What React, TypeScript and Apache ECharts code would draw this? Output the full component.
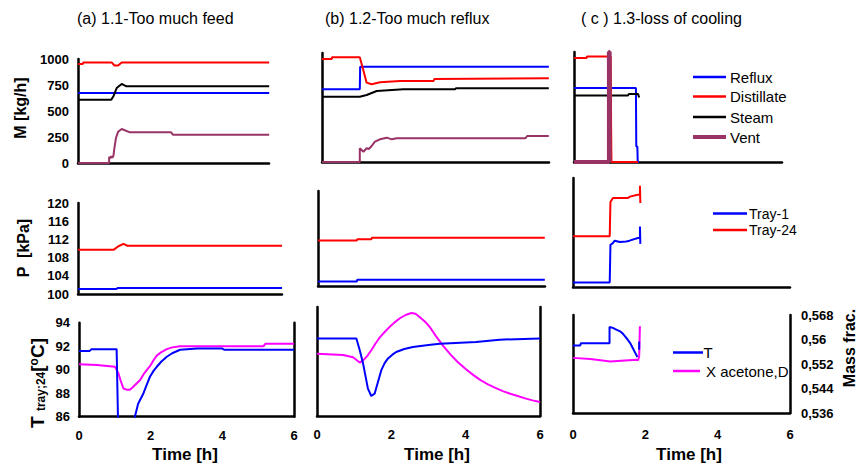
import React, { useEffect, useRef } from 'react';
import * as echarts from 'echarts';

const FONT = 'Arial, "Liberation Sans", Helvetica, sans-serif';

// ---------- DATA: [time h, value] ----------
// (a) 1.1 Too much feed — mass flows [kg/h]
const aReflux = [[0, 673], [5.34, 673]];
const aDistillate = [[0, 952], [0.13, 952], [0.15, 967], [0.94, 967], [1.02, 938], [1.12, 938], [1.22, 967], [5.34, 967]];
const aSteam = [[0, 609], [0.93, 609], [1.0, 650], [1.08, 721], [1.22, 760], [1.35, 737], [5.34, 737]];
const aVent = [[0, 0], [0.87, 0], [0.87, 60], [0.9, 45], [0.93, 65], [0.96, 50], [0.99, 70], [1.02, 150], [1.06, 240], [1.12, 300], [1.22, 327], [1.45, 295], [2.6, 295], [2.65, 272], [5.34, 272]];
// (a) pressures [kPa]
const aTray1 = [[0, 101.1], [1.08, 101.1], [1.1, 101.3], [5.7, 101.3]];
const aTray24 = [[0, 109.7], [0.99, 109.7], [1.13, 110.5], [1.27, 111.0], [1.38, 110.6], [5.7, 110.6]];
// (a) temperature [°C] and X acetone
const aT = [[0, 91.6], [0.3, 91.6], [0.35, 91.75], [1.05, 91.75], [1.1, 84], [1.5, 84], [1.56, 86], [1.65, 87.1], [1.8, 88.0], [1.9, 88.8], [1.98, 89.4], [2.08, 89.9], [2.17, 90.25], [2.3, 90.7], [2.45, 91.1], [2.6, 91.4], [2.82, 91.7], [3.3, 91.8], [4.0, 91.8], [4.05, 91.7], [6, 91.7]];
const aX = [[0, 90.46], [0.5, 90.4], [1.0, 90.26], [1.1, 89.7], [1.17, 89.0], [1.24, 88.4], [1.33, 88.3], [1.42, 88.3], [1.5, 88.5], [1.6, 88.8], [1.7, 89.1], [1.8, 89.6], [1.9, 90.0], [1.98, 90.3], [2.08, 90.8], [2.17, 91.2], [2.3, 91.5], [2.45, 91.75], [2.6, 91.9], [2.82, 92.0], [4.0, 92.0], [5.15, 92.0], [5.2, 92.2], [6, 92.2]];

// (b) 1.2 Too much reflux
const bReflux = [[0, 699], [1.05, 699], [1.06, 916], [6.3, 916]];
const bDistillate = [[0, 990], [0.27, 990], [0.28, 1007], [1.05, 1007], [1.15, 880], [1.24, 763], [1.38, 747], [1.61, 766], [2.17, 779], [3.1, 779], [3.12, 798], [6.3, 805]];
const bSteam = [[0, 628], [1.05, 628], [1.24, 644], [1.52, 683], [2.26, 699], [3.7, 699], [3.72, 709], [6.3, 709]];
const bVent = [[0, 0], [1.05, 0], [1.05, 132], [1.15, 99], [1.24, 132], [1.3, 125], [1.38, 154], [1.47, 195], [1.61, 218], [1.8, 234], [1.94, 218], [2.07, 228], [5.65, 228], [5.7, 250], [6.3, 250]];
const bTray1 = [[0, 101.0], [1.08, 101.0], [1.09, 101.4], [6.3, 101.4]];
const bTray24 = [[0, 110.0], [1.08, 110.0], [1.09, 110.3], [1.48, 110.3], [1.5, 110.6], [6.3, 110.6]];
const bT = [[0, 92.6], [1.06, 92.6], [1.15, 91.6], [1.24, 90.46], [1.37, 88.33], [1.46, 87.7], [1.55, 87.9], [1.64, 88.9], [1.73, 89.9], [1.82, 90.5], [1.91, 90.9], [2.02, 91.2], [2.13, 91.45], [2.35, 91.7], [2.58, 91.87], [3.0, 92.05], [3.3, 92.16], [4.28, 92.3], [4.91, 92.5], [6, 92.6]];
const bX = [[0, 91.3], [0.7, 91.2], [0.97, 91.0], [1.15, 90.55], [1.24, 90.74], [1.35, 91.1], [1.46, 91.6], [1.57, 92.15], [1.69, 92.7], [1.82, 93.15], [1.95, 93.57], [2.08, 93.95], [2.22, 94.3], [2.38, 94.6], [2.54, 94.77], [2.65, 94.7], [2.76, 94.43], [2.9, 94.05], [3.03, 93.6], [3.2, 92.8], [3.4, 91.95], [3.6, 91.2], [3.8, 90.55], [4.0, 90.0], [4.2, 89.5], [4.4, 89.05], [4.6, 88.7], [4.8, 88.4], [5.0, 88.12], [5.2, 87.9], [5.4, 87.7], [5.6, 87.5], [5.8, 87.33], [6, 87.19]];

// (c) 1.3 Loss of cooling
const cReflux = [[0, 711], [1.72, 711], [1.73, 150], [1.76, 150], [1.77, 0], [1.8, 0]];
const cDistillate = [[0, 1000], [0.35, 1000], [0.36, 1015], [1.02, 1015], [1.03, 360], [1.04, 0], [1.78, 0]];
const cSteam = [[0, 640], [1.5, 640], [1.52, 653], [1.78, 653], [1.81, 620]];
const cVent = [[0, 0], [0.97, 0], [0.97, 1058], [0.99, 1058], [0.99, 0]];
const cTray1 = [[0, 101.0], [1.02, 101.0], [1.04, 109.3], [1.1, 109.6], [1.16, 110.2], [1.3, 109.9], [1.48, 110.0], [1.57, 110.2], [1.8, 110.8], [1.86, 110.8], [1.86, 113.3], [1.87, 109.5]];
const cTray24 = [[0, 111.2], [1.02, 111.2], [1.04, 118.7], [1.11, 119.6], [1.53, 119.6], [1.58, 119.9], [1.8, 120.3], [1.86, 120.3], [1.86, 122.3], [1.87, 118.5]];
const cT = [[0, 91.52], [0.2, 91.52], [0.22, 91.7], [1.01, 91.7], [1.01, 93.02], [1.1, 92.95], [1.17, 92.85], [1.3, 92.67], [1.37, 92.5], [1.44, 92.25], [1.51, 92.0], [1.58, 91.71], [1.67, 91.2], [1.73, 90.85], [1.78, 90.57], [1.79, null], [1.83, 91.17], [1.83, 91.84]];
const cX = [[0, 0.554], [0.48, 0.5536], [1.03, 0.5528], [1.75, 0.5534], [1.8, 0.5532], [1.83, 0.5545], [1.85, 0.5643]];

// tick labels
const timeTicks = [0, 2, 4, 6];
const mTicks = [0, 250, 500, 750, 1000];
const pTicks = [100, 104, 108, 112, 116, 120];
const tTicks = [86, 88, 90, 92, 94];
const massTicks = [0.536, 0.544, 0.552, 0.56, 0.568];

const BLUE = '#0000ff';
const RED = '#ff0000';
const BLACK = '#000000';
const PURPLE = '#993366';
const MAGENTA = '#ff00ff';

const titles = ['(a) 1.1-Too much feed', '(b) 1.2-Too much reflux', '( c ) 1.3-loss of cooling'];

export default function App() {
  const ref = useRef<HTMLDivElement>(null);
  useEffect(() => {
    if (!ref.current) return;
    const chart = echarts.init(ref.current, undefined, { renderer: 'svg' });

    const grids = [
      { left: 78, top: 59, width: 191, height: 104 },   // a1
      { left: 78, top: 203, width: 204, height: 91 },   // a2
      { left: 79, top: 322.7, width: 215, height: 94 }, // a3
      { left: 322, top: 53, width: 227, height: 109 },  // b1
      { left: 318, top: 191, width: 227, height: 95 },  // b2
      { left: 317, top: 307, width: 223, height: 109 }, // b3
      { left: 574, top: 52, width: 208, height: 110 },  // c1
      { left: 573, top: 178, width: 217, height: 109 }, // c2
      { left: 573, top: 315, width: 217, height: 98 },  // c3
    ];
    const pxh = [35.8, 35.8, 0, 36, 36, 0, 36, 36, 0];
    const labeledX = [false, false, true, false, false, true, false, false, true];
    const xMargins = [0, 0, 12, 0, 0, 12, 0, 0, 15];

    const axisLine = { show: true, onZero: false, lineStyle: { color: '#000', width: 2.5 } };
    const lbl = { fontWeight: 'bold' as const, fontSize: 13, color: '#000', fontFamily: FONT };
    const plain = (v: number) => String(v);

    const xAxes = grids.map((g, i) => labeledX[i]
      ? {
          type: 'value', gridIndex: i, min: timeTicks[0], max: timeTicks[timeTicks.length - 1], interval: 2,
          axisLine, axisTick: { show: false }, splitLine: { show: false },
          axisLabel: { ...lbl, margin: xMargins[i], formatter: plain },
        }
      : {
          type: 'value', gridIndex: i, min: 0, max: g.width / pxh[i],
          axisLine, axisTick: { show: false }, splitLine: { show: false }, axisLabel: { show: false },
        });

    const yRanges: [number, number, number | undefined, boolean][] = [
      [mTicks[0], mTicks[mTicks.length - 1], 250, true],
      [pTicks[0], pTicks[pTicks.length - 1], 4, true],
      [tTicks[0], tTicks[tTicks.length - 1], 2, true],
      [0, 1048, undefined, false],
      [100, 120.9, undefined, false],
      [86, 95.28, undefined, false],
      [0, 1058, undefined, false],
      [100, 124, undefined, false],
      [86, 94, undefined, false],
    ];
    const yAxes: any[] = yRanges.map(([min, max, interval, show], i) => ({
      type: 'value', gridIndex: i, min, max, interval,
      axisLine, axisTick: { show: false }, splitLine: { show: false },
      axisLabel: show ? { ...lbl, margin: 9, formatter: plain } : { show: false },
    }));
    // right-hand frame lines for bottom row
    yAxes.push({ type: 'value', gridIndex: 2, position: 'right', min: 86, max: 94, axisLine, axisTick: { show: false }, splitLine: { show: false }, axisLabel: { show: false } });
    yAxes.push({ type: 'value', gridIndex: 5, position: 'right', min: 86, max: 95.28, axisLine, axisTick: { show: false }, splitLine: { show: false }, axisLabel: { show: false } });
    yAxes.push({
      type: 'value', gridIndex: 8, position: 'right', min: massTicks[0], max: massTicks[massTicks.length - 1], interval: 0.008,
      axisLine, axisTick: { show: false }, splitLine: { show: false },
      axisLabel: { ...lbl, margin: 11, formatter: (v: number) => String(Math.round(v * 1000) / 1000).replace('.', ',') },
    });

    const line = (name: string, data: any[], color: string, gi: number, yi: number = gi, w = 2) => ({
      type: 'line', name, data, xAxisIndex: gi, yAxisIndex: yi, showSymbol: false, symbol: 'none',
      lineStyle: { color, width: w }, itemStyle: { color }, silent: true, clip: true, connectNulls: false,
    });

    const series = [
      line('Vent', aVent, PURPLE, 0), line('Reflux', aReflux, BLUE, 0), line('Steam', aSteam, BLACK, 0), line('Distillate', aDistillate, RED, 0),
      line('Tray-1', aTray1, BLUE, 1), line('Tray-24', aTray24, RED, 1),
      line('X acetone,D', aX, MAGENTA, 2), line('T', aT, BLUE, 2),
      line('Vent', bVent, PURPLE, 3), line('Steam', bSteam, BLACK, 3), line('Reflux', bReflux, BLUE, 3), line('Distillate', bDistillate, RED, 3),
      line('Tray-1', bTray1, BLUE, 4), line('Tray-24', bTray24, RED, 4),
      line('X acetone,D', bX, MAGENTA, 5), line('T', bT, BLUE, 5),
      line('Reflux', cReflux, BLUE, 6), line('Steam', cSteam, BLACK, 6), line('Distillate', cDistillate, RED, 6), line('Vent', cVent, PURPLE, 6, 6, 4),
      line('Tray-1', cTray1, BLUE, 7), line('Tray-24', cTray24, RED, 7),
      line('X acetone,D', cX, MAGENTA, 8, 11), line('T', cT, BLUE, 8),
    ];

    const txt = (text: string, x: number, y: number, size: number, opts: any = {}) => ({
      type: 'text', x, y, silent: true,
      style: { text, fontSize: size, fontFamily: FONT, fill: '#000', textAlign: 'left', textVerticalAlign: 'middle', ...opts },
    });
    const seg = (x1: number, x2: number, y: number, color: string, w = 2.5) => ({
      type: 'line', silent: true, shape: { x1, y1: y, x2, y2: y }, style: { stroke: color, lineWidth: w },
    });

    const graphic: any[] = [
      txt(titles[0], 77, 18, 16),
      txt(titles[1], 325, 18, 16),
      txt(titles[2], 581, 18, 16),
      { ...txt('M [kg/h]', 20, 108, 16, { fontWeight: 'bold', textAlign: 'center' }), rotation: Math.PI / 2 },
      { ...txt('P  [kPa]', 23, 248, 16, { fontWeight: 'bold', textAlign: 'center' }), rotation: Math.PI / 2 },
      {
        type: 'text', x: 37, y: 383, rotation: Math.PI / 2, silent: true,
        style: {
          text: '{b|T }{s|tray;24}{b|[}{o|o}{b|C]}', textAlign: 'center', textVerticalAlign: 'middle', fill: '#000',
          rich: {
            b: { fontSize: 19, fontWeight: 'bold', fontFamily: FONT, fill: '#000', verticalAlign: 'bottom' },
            s: { fontSize: 12, fontWeight: 'bold', fontFamily: FONT, fill: '#000', verticalAlign: 'bottom' },
            o: { fontSize: 12, fontWeight: 'bold', fontFamily: FONT, fill: '#000', verticalAlign: 'top' },
          },
        },
      },
      { ...txt('Mass frac.', 849, 348, 16, { fontWeight: 'bold', textAlign: 'center' }), rotation: Math.PI / 2 },
      txt('Time [h]', 185, 454, 17, { fontWeight: 'bold', textAlign: 'center' }),
      txt('Time [h]', 437, 454, 17, { fontWeight: 'bold', textAlign: 'center' }),
      txt('Time [h]', 689, 454, 17, { fontWeight: 'bold', textAlign: 'center' }),
      // legend (c) row 1
      seg(693, 726, 77, BLUE), txt('Reflux', 730, 77, 15),
      seg(693, 726, 96.5, RED), txt('Distillate', 730, 96.5, 15),
      seg(693, 726, 117, BLACK), txt('Steam', 730, 117, 15),
      seg(693, 726, 137, PURPLE, 4), txt('Vent', 730, 137, 15),
      // legend (c) row 2
      seg(713, 747, 213.5, BLUE), txt('Tray-1', 749, 213.5, 14),
      seg(713, 747, 230, RED), txt('Tray-24', 749, 230, 14),
      // legend (c) row 3
      seg(673, 703, 352.5, BLUE), txt('T', 703.5, 352.5, 15),
      seg(673, 700, 371, MAGENTA), txt('X acetone,D', 706, 371, 15),
    ];

    chart.setOption({
      animation: false,
      backgroundColor: '#ffffff',
      grid: grids.map((g) => ({ ...g, containLabel: false })),
      xAxis: xAxes,
      yAxis: yAxes,
      series,
      graphic,
    });
    return () => chart.dispose();
  }, []);
  return <div ref={ref} style={{ position: 'absolute', left: 0, top: 0, width: 858, height: 464 }} />;
}
